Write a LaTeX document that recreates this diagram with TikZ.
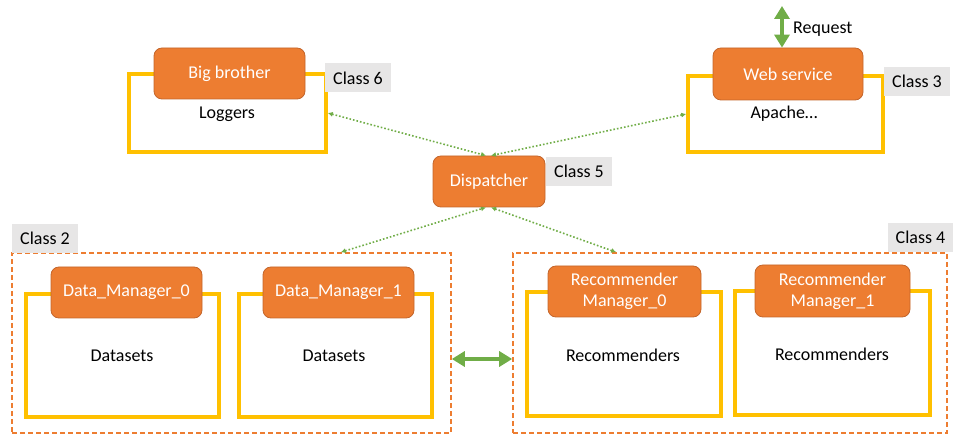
\documentclass[tikz,border=0pt]{standalone}
\usepackage{fontspec}
\setmainfont{Carlito}
\usetikzlibrary{arrows.meta,positioning}
\definecolor{mgrorange}{HTML}{ED7D31}
\definecolor{mgredge}{HTML}{C3652B}
\definecolor{mgryellow}{HTML}{FFC000}
\definecolor{mgrgreen}{HTML}{70AD47}
\definecolor{mgrgray}{HTML}{E7E6E6}
\tikzset{
  yellowbox/.style 2 args={draw=mgryellow, line width=3.5pt, minimum width=#1, minimum height=#2, inner sep=0pt},
  mgrnode/.style 2 args={draw=mgredge, line width=0.8pt, fill=mgrorange, rounded corners=8pt, text=white,
    minimum width=#1, minimum height=#2, inner sep=0pt, align=center, font=\fontsize{18}{21}\selectfont},
  classtag/.style={fill=mgrgray, minimum width=66pt, minimum height=29pt, inner sep=0pt, font=\fontsize{18}{21}\selectfont},
  plain/.style={inner sep=0pt, font=\fontsize{18}{21}\selectfont},
  groupbox/.style 2 args={draw=mgrorange, line width=1.6pt, dash pattern=on 5pt off 3pt,
    minimum width=#1, minimum height=#2, inner sep=0pt},
  rpcline/.style={draw=mgrgreen, line width=1.6pt, dotted, {Latex[length=5pt,width=5pt]}-{Latex[length=5pt,width=5pt]}},
  biglink/.style={draw=mgrgreen, line width=4pt, {Triangle[width=15pt,length=13pt]}-{Triangle[width=15pt,length=13pt]}}
}
\begin{document}
\begin{tikzpicture}[x=1pt, y=-1pt]
  \useasboundingbox (0,0) rectangle (956,438);
  % top row
  \node[yellowbox={197pt}{78pt}] (bbbox) at (227.5,113) {};
  \node[mgrnode={151pt}{51pt}] (bigbrother) at (229.5,73.5) {Big brother};
  \node[plain] (loggers) at (227,114) {Loggers};
  \node[classtag] (class6) at (358,78) {Class 6};

  \node[yellowbox={195pt}{76pt}] (webbox) at (785.5,114) {};
  \node[mgrnode={150pt}{52pt}] (websvc) at (788,74) {Web service};
  \node[plain] (apache) at (784,114) {Apache\ldots};
  \node[classtag] (class3) at (917,81.5) {Class 3};
  \coordinate (reqtop) at (782,6);
  \draw[biglink, line width=3.5pt] (reqtop) -- (websvc.north -| reqtop);
  \node[plain, anchor=west] (request) at (793,29) {Request};

  % dispatcher
  \node[mgrnode={112pt}{51pt}] (disp) at (489,181.5) {Dispatcher};
  \node[classtag] (class5) at (579,171.5) {Class 5};

  % data managers
  \node[groupbox={439pt}{180pt}] (cls2) at (231.5,343) {};
  \node[classtag] (class2) at (45,238.5) {Class 2};
  \node[yellowbox={193pt}{123pt}] (dm0box) at (122.5,355.5) {};
  \node[mgrnode={151pt}{51pt}] (dm0) at (126.5,292.5) {Data\_Manager\_0};
  \node[plain] (data0) at (122,356) {Datasets};
  \node[yellowbox={193pt}{123pt}] (dm1box) at (335.5,355.5) {};
  \node[mgrnode={151pt}{51pt}] (dm1) at (338.5,292.5) {Data\_Manager\_1};
  \node[plain] (data1) at (334,356) {Datasets};

  % recommender managers
  \node[groupbox={434pt}{180pt}] (cls4) at (730,343) {};
  \node[classtag, minimum width=65pt] (class4) at (920.5,237.5) {Class 4};
  \node[yellowbox={194pt}{124pt}] (rm0box) at (624,354) {};
  \node[mgrnode={153pt}{51pt}] (rm0) at (624.5,291.5) {Recommender\\Manager\_0};
  \node[plain] (recs0) at (623,355) {Recommenders};
  \node[yellowbox={195pt}{124pt}] (rm1box) at (832.5,353) {};
  \node[mgrnode={155pt}{52pt}] (rm1) at (832.5,291) {Recommender\\Manager\_1};
  \node[plain] (recs1) at (832,354) {Recommenders};

  % links
  \draw[rpcline] (bbbox.east) -- ([xshift=-3pt]disp.north);
  \draw[rpcline] (webbox.west) -- ([xshift=2pt]disp.north);
  \draw[rpcline] ([xshift=-111pt]cls2.north east) -- ([xshift=-3pt]disp.south);
  \draw[rpcline] ([xshift=104pt]cls4.north west) -- ([xshift=2pt]disp.south);
  \draw[biglink] ([yshift=-16pt]cls2.east) -- ([yshift=-16pt]cls4.west);
\end{tikzpicture}
\end{document}
